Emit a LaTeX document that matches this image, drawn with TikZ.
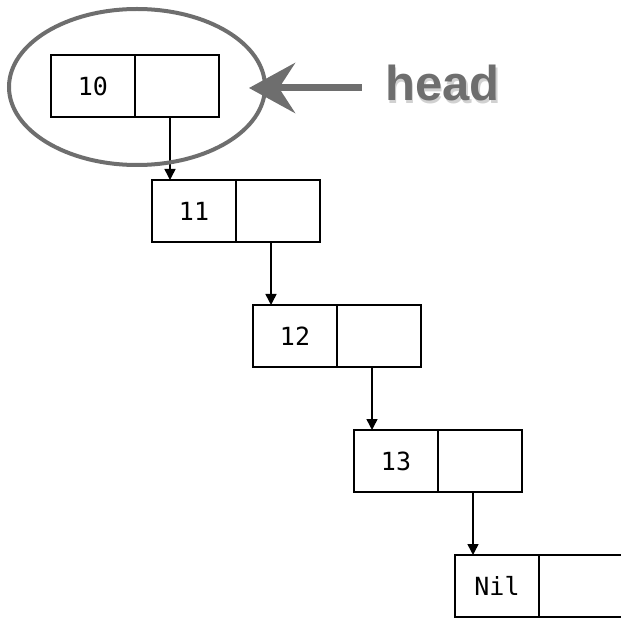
\documentclass[tikz,border=0pt]{standalone}
\usepackage{fontspec}
\newfontfamily\cellfont{DejaVu Sans Mono}
\newfontfamily\labelfont{Liberation Sans}
\usetikzlibrary{positioning,shapes.geometric,arrows.meta}
\definecolor{ringgray}{HTML}{6E6E6E}

\begin{document}
\begin{tikzpicture}[x=0.5pt,y=-0.5pt,
    cell/.style={draw,line width=0.75pt,outer sep=0pt,inner sep=0pt,minimum width=42pt,minimum height=31pt,
      font=\cellfont\fontsize{12.5}{15}\selectfont},
    link/.style={line width=0.75pt,-{Triangle[width=5.5pt,length=5.5pt]}},
    pointer/.style={ringgray,line width=3.5pt,-{Stealth[length=23pt,width=25pt,inset=8pt]}},
    headtext/.style={font=\labelfont\bfseries\fontsize{24.5}{28}\selectfont,anchor=base,inner xsep=11.5pt}]
  \useasboundingbox (0,0) rectangle (621,620);

  % list elements
  \foreach[count=\i from 0,evaluate={\i*101} as \x,evaluate={\i*125} as \y] \val in {10,11,12,13,Nil} {
    \node[cell] (v\i) at (93+\x,86+\y) {\val};
    \node[cell,right=0pt of v\i] (p\i) {};
  }

  % next pointers
  \foreach[evaluate={int(\i+1)} as \j] \i in {0,...,3} {
    \draw[link] ([xshift=17.5pt]p\i.south west) -- ([xshift=9pt]v\j.north west);
  }

  % head marker
  \node[ellipse,draw=ringgray,line width=2pt,minimum width=128pt,minimum height=78pt] (ring) at (137,87) {};
  \coordinate (tip) at (249,88);
  \node[headtext,text=black!18] (headshade) at (444,103.5) {head};
  \node[headtext,text=ringgray] (head) at (442.5,101) {head};
  \draw[pointer] (head.west |- tip) -- (tip);
\end{tikzpicture}
\end{document}
